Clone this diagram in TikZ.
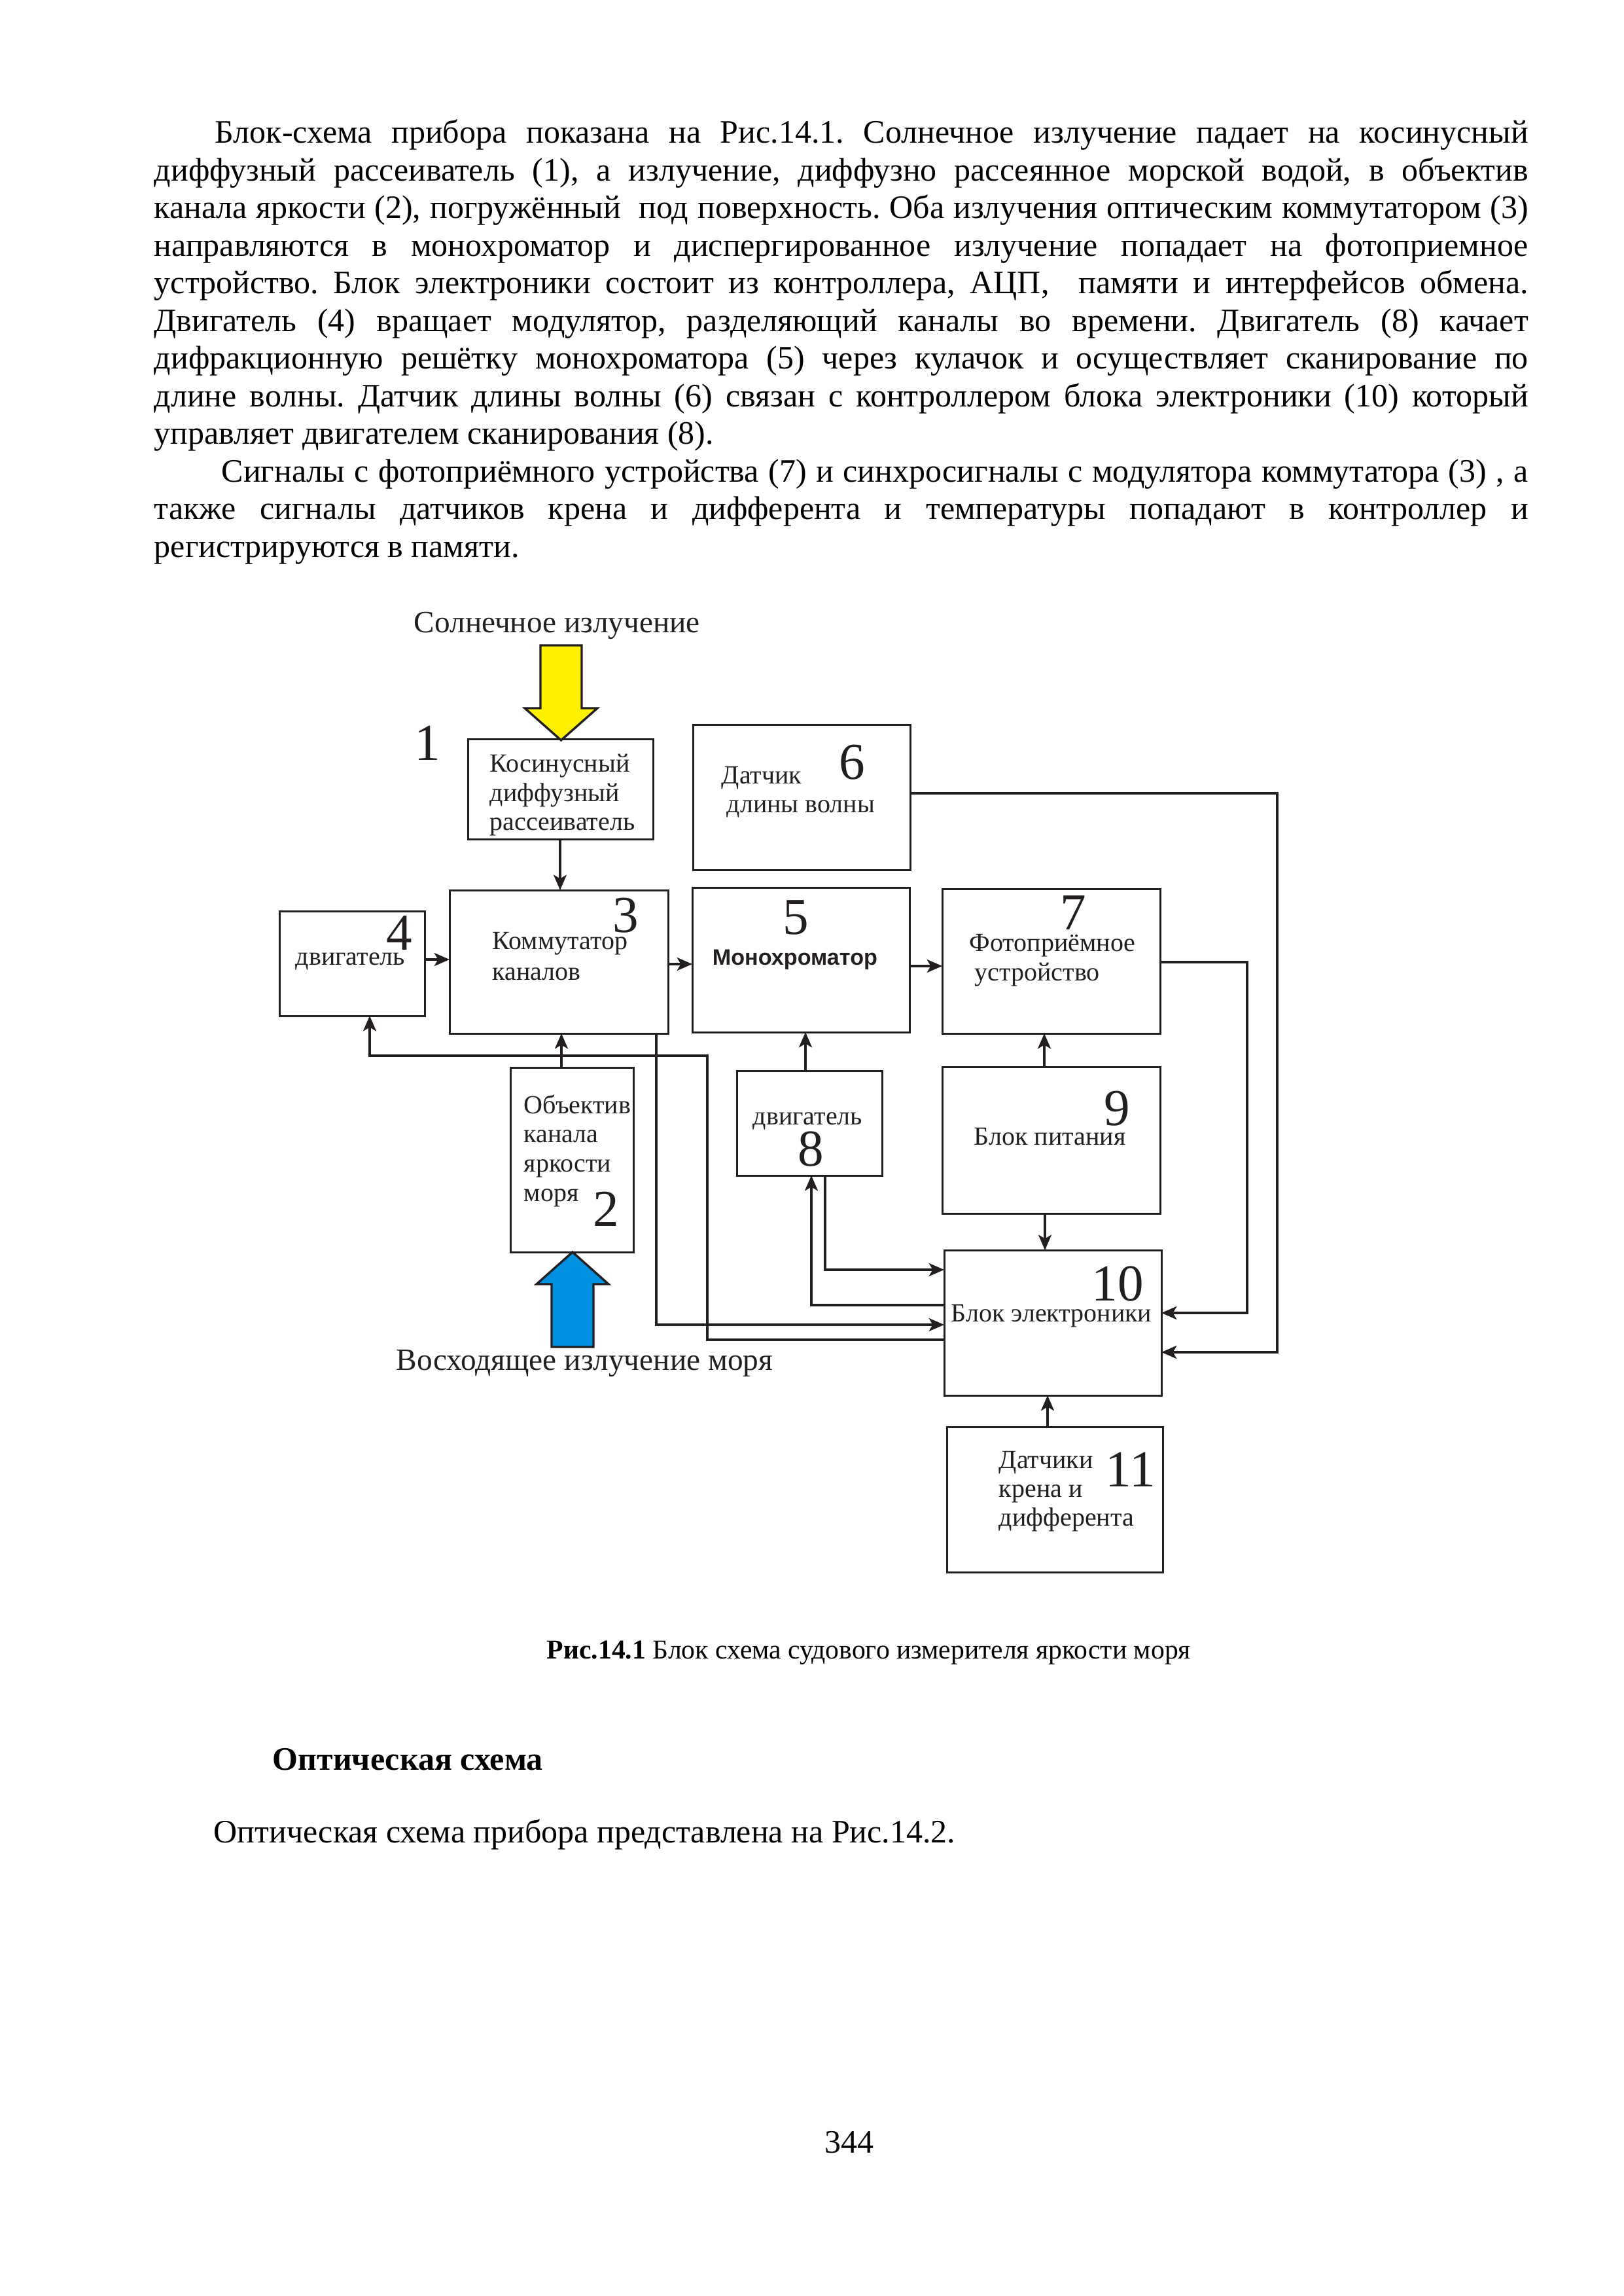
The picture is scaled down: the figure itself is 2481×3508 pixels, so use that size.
\documentclass[tikz,border=0pt]{standalone}
\usepackage{fontspec}
\setmainfont{Liberation Serif}
\newfontfamily\arialf{Liberation Sans}
\usetikzlibrary{arrows.meta}
\definecolor{ink}{RGB}{35,31,32}
\definecolor{sunyellow}{RGB}{255,242,0}
\definecolor{seablue}{RGB}{0,144,223}
\newcommand\blkbox[5]{\node[blk, minimum width={(#4-#2)*0.24pt}, minimum height={(#5-#3)*0.24pt}] (#1) at ({(#2+#4)/2},{(#3+#5)/2}) {};}
\frenchspacing
\begin{document}
\begin{tikzpicture}[x=0.24pt,y=-0.24pt,
  blk/.style={draw=ink, line width=0.72pt, inner sep=0pt, outer sep=0pt, rectangle},
  wire/.style={draw=ink, line width=0.85pt},
  arr/.style={wire, -{Stealth[length=5.6pt,width=4.8pt,inset=1.4pt]}},
  btxt/.style={anchor=base west, inner sep=0pt, text=ink, font=\fontsize{9.6pt}{10.7pt}\selectfont},
  num/.style={anchor=base, inner sep=0pt, text=ink, font=\fontsize{19pt}{21pt}\selectfont},
  lab/.style={anchor=base west, inner sep=0pt, text=ink, font=\fontsize{11.35pt}{13pt}\selectfont},
  body/.style={anchor=base west, inner sep=0pt, font=\frenchspacing\fontsize{12pt}{13.8pt}\selectfont},
  bigarrow/.style={draw=ink, line width=0.8pt, line join=miter}
]
\fill[white] (0,0) rectangle (2481,3508);
\useasboundingbox (0,0) rectangle (2481,3508);

% ---------- body text ----------
\node[body] (p1) at (328,219) {\makebox[481.68pt][s]{Блок-схема прибора показана на Рис.14.1. Солнечное излучение падает на косинусный}};
\node[body] (p2) at (235,276.5) {\makebox[504pt][s]{диффузный рассеиватель (1), а излучение, диффузно рассеянное морской водой, в объектив}};
\node[body] (p3) at (235,334) {\makebox[504pt][s]{канала яркости (2), погружённый\ \ под поверхность. Оба излучения оптическим коммутатором (3)}};
\node[body] (p4) at (235,391.5) {\makebox[504pt][s]{направляются в монохроматор и диспергированное излучение попадает на фотоприемное}};
\node[body] (p5) at (235,449) {\makebox[504pt][s]{устройство. Блок электроники состоит из контроллера, АЦП,\ \ памяти и интерфейсов обмена.}};
\node[body] (p6) at (235,506.5) {\makebox[504pt][s]{Двигатель (4) вращает модулятор, разделяющий каналы во времени. Двигатель (8) качает}};
\node[body] (p7) at (235,564) {\makebox[504pt][s]{дифракционную решётку монохроматора (5) через кулачок и осуществляет сканирование по}};
\node[body] (p8) at (235,621.5) {\makebox[504pt][s]{длине волны. Датчик длины волны (6) связан с контроллером блока электроники (10) который}};
\node[body] (p9) at (235,679) {управляет двигателем сканирования (8).};
\node[body] (p10) at (338,736.5) {\makebox[479.3pt][s]{Сигналы с фотоприёмного устройства (7) и синхросигналы с модулятора коммутатора (3) , а}};
\node[body] (p11) at (235,794) {\makebox[504pt][s]{также сигналы датчиков крена и дифферента и температуры попадают в контроллер и}};
\node[body] (p12) at (235,851.5) {регистрируются в памяти.};

% ---------- boxes ----------
\blkbox{b1}{715}{1129}{998}{1282}
\blkbox{b6}{1059}{1107}{1391}{1329}
\blkbox{b4}{427}{1392}{649}{1552}
\blkbox{b3}{687}{1360}{1021}{1579}
\blkbox{b5}{1058}{1356}{1390}{1577}
\blkbox{b7}{1440}{1358}{1773}{1579}
\blkbox{b2}{780}{1631}{968}{1913}
\blkbox{b8}{1126}{1636}{1348}{1796}
\blkbox{b9}{1440}{1630}{1773}{1854}
\blkbox{b10}{1443}{1910}{1775}{2132}
\blkbox{b11}{1447}{2180}{1777}{2402}

% ---------- big arrows ----------
\draw[bigarrow, fill=sunyellow] (826,986) -- (889,986) -- (889,1082) -- (913,1082) -- (857.5,1131) -- (802,1082) -- (826,1082) -- cycle;
\draw[bigarrow, fill=seablue] (843,2058) -- (907,2058) -- (907,1962) -- (930,1962) -- (875,1913) -- (820,1962) -- (843,1962) -- cycle;

% ---------- labels ----------
\node[lab] (sun) at (632,967) {Солнечное излучение};
\node[lab] (sea) at (605,2093) {Восходящее излучение моря};
\node[num] (n1) at (653,1161) {1};

\node[btxt] (t1a) at (748,1179) {Косинусный};
\node[btxt] (t1b) at (748,1224) {диффузный};
\node[btxt] (t1c) at (748,1268) {рассеиватель};

\node[num] (n3) at (956,1424) {3};
\node[btxt] (t3a) at (752,1450) {Коммутатор};
\node[btxt] (t3b) at (752,1497) {каналов};

\node[num] (n4) at (610,1451) {4};
\node[btxt] (t4) at (451,1474) {двигатель};

\node[num] (n6) at (1302,1190) {6};
\node[btxt] (t6a) at (1102,1197) {Датчик};
\node[btxt] (t6b) at (1110,1241) {длины волны};

\node[num] (n5) at (1216,1427) {5};
\node[anchor=base west, inner sep=0pt, text=ink, font=\arialf\bfseries\fontsize{8.2pt}{10pt}\selectfont] (t5) at (1088,1474) {Монохроматор};

\node[num] (n7) at (1640,1420) {7};
\node[btxt] (t7a) at (1481,1453) {Фотоприёмное};
\node[btxt] (t7b) at (1489,1498) {устройство};

\node[btxt] (t2a) at (800,1701) {Объектив};
\node[btxt] (t2b) at (800,1745) {канала};
\node[btxt] (t2c) at (800,1790) {яркости};
\node[btxt] (t2d) at (800,1835) {моря};
\node[num] (n2) at (926,1873) {2};

\node[btxt] (t8) at (1150,1718) {двигатель};
\node[num] (n8) at (1239,1781) {8};

\node[num] (n9) at (1707,1719) {9};
\node[btxt] (t9) at (1488,1749) {Блок питания};

\node[num] (n10) at (1708,1987) {10};
\node[btxt] (t10) at (1453,2019) {Блок электроники};

\node[num] (n11) at (1728,2271) {11};
\node[btxt] (t11a) at (1526,2243) {Датчики};
\node[btxt] (t11b) at (1526,2287) {крена и};
\node[btxt] (t11c) at (1526,2331) {дифферента};

% ---------- helper coordinates ----------
\coordinate (xa) at (856,0);
\coordinate (xb) at (858,0);
\coordinate (xc) at (565,0);
\coordinate (xd) at (1081,0);
\coordinate (xe) at (1003,0);
\coordinate (xf) at (1231,0);
\coordinate (xg) at (1596,0);
\coordinate (xh) at (1597,0);
\coordinate (xi) at (1601,0);
\coordinate (xj) at (1261,0);
\coordinate (xk) at (1240,0);
\coordinate (xl) at (1952,0);
\coordinate (xm) at (1906,0);
\coordinate (ya) at (0,1466);
\coordinate (yb) at (0,1473);
\coordinate (yc) at (0,1476);
\coordinate (yd) at (0,1212);
\coordinate (ye) at (0,2066);
\coordinate (yf) at (0,1470);
\coordinate (yg) at (0,2006);
\coordinate (yh) at (0,2047);
\coordinate (yi) at (0,1613);
\coordinate (yj) at (0,2024);
\coordinate (yk) at (0,1940);
\coordinate (yl) at (0,1994);

% ---------- connectors ----------
\draw[arr] (xa |- b1.south) -- (xa |- b3.north);
\draw[arr] (b4.east |- ya) -- (b3.west |- ya);
\draw[arr] (b3.east |- yb) -- (b5.west |- yb);
\draw[arr] (b5.east |- yc) -- (b7.west |- yc);
\draw[arr] (b6.east |- yd) -- (xl |- yd) -- (xl |- ye) -- (b10.east |- ye);
\draw[arr] (b7.east |- yf) -- (xm |- yf) -- (xm |- yg) -- (b10.east |- yg);
\draw[arr] (xb |- b2.north) -- (xb |- b3.south);
\draw[arr] (b10.west |- yh) -- (xd |- yh) -- (xd |- yi) -- (xc |- yi) -- (xc |- b4.south);
\draw[arr] (xe |- b3.south) -- (xe |- yj) -- (b10.west |- yj);
\draw[arr] (xf |- b8.north) -- (xf |- b5.south);
\draw[arr] (xg |- b9.north) -- (xg |- b7.south);
\draw[arr] (xh |- b9.south) -- (xh |- b10.north);
\draw[arr] (xi |- b11.north) -- (xi |- b10.south);
\draw[arr] (xj |- b8.south) -- (xj |- yk) -- (b10.west |- yk);
\draw[arr] (b10.west |- yl) -- (xk |- yl) -- (xk |- b8.south);

% ---------- caption and following text ----------
\node[anchor=base, inner sep=0pt, font=\fontsize{10pt}{12pt}\selectfont] (cap) at (1328,2534) {\textbf{Рис.14.1} Блок схема судового измерителя яркости моря};
\node[body, font=\bfseries\fontsize{12pt}{13.8pt}\selectfont] (head) at (416,2704) {Оптическая схема};
\node[body] (opt) at (326,2815) {Оптическая схема прибора представлена на Рис.14.2.};
\node[anchor=base, inner sep=0pt, font=\fontsize{12pt}{13.8pt}\selectfont] (pg) at (1298,3289) {344};
\end{tikzpicture}
\end{document}
